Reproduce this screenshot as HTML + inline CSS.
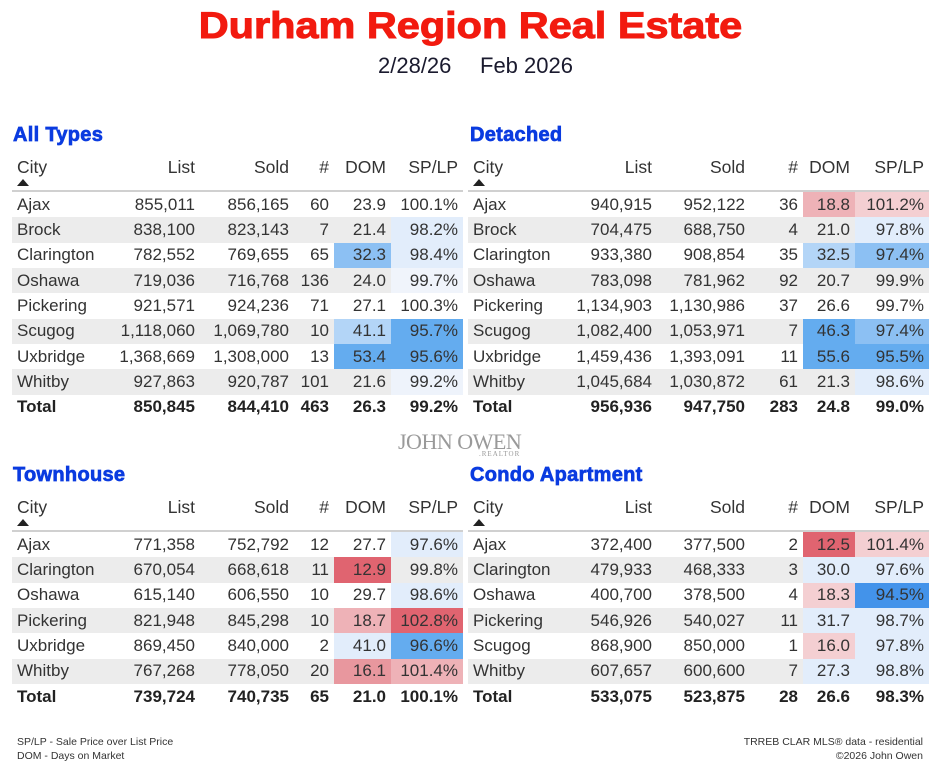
<!DOCTYPE html>
<html><head><meta charset="utf-8"><style>
*{margin:0;padding:0;box-sizing:border-box}
body{width:941px;height:772px;background:#fff;position:relative;overflow:hidden;font-family:"Liberation Sans",sans-serif;color:#222}
.abs{position:absolute}
.title{left:0;width:941px;top:5px;text-align:center;color:#f21a0f;font-weight:bold;font-size:37px;transform:scaleX(1.12);-webkit-text-stroke:1px #f21a0f}
.date{top:53px;font-size:22px;color:#1a1a2e}
.sec{font-weight:bold;color:#0a3be0;font-size:20px;-webkit-text-stroke:0.7px #0a3be0;letter-spacing:0.3px}
.tbl{position:absolute}
.row{display:flex;height:25.35px;align-items:center;font-size:17px;color:#333}
.row div{height:100%;display:flex;align-items:center;justify-content:flex-end;padding-right:5px;white-space:nowrap}
.row div:first-child{justify-content:flex-start;padding-left:5px}
.g{background:#ececec}
.hd{height:40px;border-bottom:2px solid #d0d0d0;align-items:flex-start;padding-top:5px;font-size:17.5px;position:relative}
.hd div{height:auto}
.arr{position:absolute;left:5px;top:27px;width:0;height:0;border-left:6px solid transparent;border-right:6px solid transparent;border-bottom:7px solid #222}
.tot{font-weight:bold;color:#222}
.L .row div:nth-child(1){width:118px}.L .row div:nth-child(2){width:70px}.L .row div:nth-child(3){width:94px}.L .row div:nth-child(4){width:40px}.L .row div:nth-child(5){width:57px}.L .row div:nth-child(6){width:72px}
.R .row div:nth-child(1){width:92px}.R .row div:nth-child(2){width:97px}.R .row div:nth-child(3){width:93px}.R .row div:nth-child(4){width:53px}.R .row div:nth-child(5){width:52px}.R .row div:nth-child(6){width:74px}
.b1{background:#e2edfb}.b2{background:#b3d5f7}.b3{background:#8cc0f3}.b4{background:#64acef}.b5{background:#4393ea}
.r1{background:#f4cfd2}.r2{background:#eeb2b7}.r3{background:#e8979e}.r4{background:#e06470}
.foot{font-size:10.5px;color:#333;line-height:14px}
</style></head><body>
<div class="abs title">Durham Region Real Estate</div>
<div class="abs date" style="left:378px">2/28/26</div>
<div class="abs date" style="left:480px">Feb 2026</div>

<div class="abs sec" style="left:13px;top:124px">All Types</div>
<div class="abs sec" style="left:470px;top:124px">Detached</div>
<div class="abs sec" style="left:13px;top:464px">Townhouse</div>
<div class="abs sec" style="left:470px;top:464px">Condo Apartment</div>

<div class="tbl L" style="left:12px;top:152px">
<div class="row hd"><div>City</div><div>List</div><div>Sold</div><div>#</div><div>DOM</div><div>SP/LP</div><span class="arr"></span></div>
<div class="row"><div>Ajax</div><div>855,011</div><div>856,165</div><div>60</div><div>23.9</div><div>100.1%</div></div>
<div class="row g"><div>Brock</div><div>838,100</div><div>823,143</div><div>7</div><div>21.4</div><div class="b1">98.2%</div></div>
<div class="row"><div>Clarington</div><div>782,552</div><div>769,655</div><div>65</div><div class="b3">32.3</div><div class="b1">98.4%</div></div>
<div class="row g"><div>Oshawa</div><div>719,036</div><div>716,768</div><div>136</div><div>24.0</div><div style="background:#f0f4fb">99.7%</div></div>
<div class="row"><div>Pickering</div><div>921,571</div><div>924,236</div><div>71</div><div>27.1</div><div>100.3%</div></div>
<div class="row g"><div>Scugog</div><div>1,118,060</div><div>1,069,780</div><div>10</div><div class="b2">41.1</div><div class="b4">95.7%</div></div>
<div class="row"><div>Uxbridge</div><div>1,368,669</div><div>1,308,000</div><div>13</div><div class="b4">53.4</div><div class="b4">95.6%</div></div>
<div class="row g"><div>Whitby</div><div>927,863</div><div>920,787</div><div>101</div><div>21.6</div><div style="background:#eef3fb">99.2%</div></div>
<div class="row tot"><div>Total</div><div>850,845</div><div>844,410</div><div>463</div><div>26.3</div><div>99.2%</div></div>
</div>

<div class="tbl R" style="left:468px;top:152px">
<div class="row hd"><div>City</div><div>List</div><div>Sold</div><div>#</div><div>DOM</div><div>SP/LP</div><span class="arr"></span></div>
<div class="row"><div>Ajax</div><div>940,915</div><div>952,122</div><div>36</div><div class="r2">18.8</div><div class="r1">101.2%</div></div>
<div class="row g"><div>Brock</div><div>704,475</div><div>688,750</div><div>4</div><div>21.0</div><div class="b1">97.8%</div></div>
<div class="row"><div>Clarington</div><div>933,380</div><div>908,854</div><div>35</div><div class="b2">32.5</div><div class="b3">97.4%</div></div>
<div class="row g"><div>Oshawa</div><div>783,098</div><div>781,962</div><div>92</div><div>20.7</div><div>99.9%</div></div>
<div class="row"><div>Pickering</div><div>1,134,903</div><div>1,130,986</div><div>37</div><div>26.6</div><div>99.7%</div></div>
<div class="row g"><div>Scugog</div><div>1,082,400</div><div>1,053,971</div><div>7</div><div class="b4">46.3</div><div class="b3">97.4%</div></div>
<div class="row"><div>Uxbridge</div><div>1,459,436</div><div>1,393,091</div><div>11</div><div class="b4">55.6</div><div class="b4">95.5%</div></div>
<div class="row g"><div>Whitby</div><div>1,045,684</div><div>1,030,872</div><div>61</div><div>21.3</div><div class="b1">98.6%</div></div>
<div class="row tot"><div>Total</div><div>956,936</div><div>947,750</div><div>283</div><div>24.8</div><div>99.0%</div></div>
</div>

<div class="abs" style="left:398px;top:429px;font-family:'Liberation Serif',serif;font-size:22px;color:#9a9a9a;letter-spacing:-0.5px">JOHN OWEN</div>
<div class="abs" style="left:479px;top:450px;font-family:'Liberation Serif',serif;font-size:7px;color:#9a9a9a;letter-spacing:1px">.REALTOR</div>

<div class="tbl L" style="left:12px;top:492px">
<div class="row hd"><div>City</div><div>List</div><div>Sold</div><div>#</div><div>DOM</div><div>SP/LP</div><span class="arr"></span></div>
<div class="row"><div>Ajax</div><div>771,358</div><div>752,792</div><div>12</div><div>27.7</div><div class="b1">97.6%</div></div>
<div class="row g"><div>Clarington</div><div>670,054</div><div>668,618</div><div>11</div><div class="r4">12.9</div><div>99.8%</div></div>
<div class="row"><div>Oshawa</div><div>615,140</div><div>606,550</div><div>10</div><div>29.7</div><div class="b1">98.6%</div></div>
<div class="row g"><div>Pickering</div><div>821,948</div><div>845,298</div><div>10</div><div class="r2">18.7</div><div class="r4">102.8%</div></div>
<div class="row"><div>Uxbridge</div><div>869,450</div><div>840,000</div><div>2</div><div class="b1">41.0</div><div class="b4">96.6%</div></div>
<div class="row g"><div>Whitby</div><div>767,268</div><div>778,050</div><div>20</div><div class="r3">16.1</div><div class="r2">101.4%</div></div>
<div class="row tot"><div>Total</div><div>739,724</div><div>740,735</div><div>65</div><div>21.0</div><div>100.1%</div></div>
</div>

<div class="tbl R" style="left:468px;top:492px">
<div class="row hd"><div>City</div><div>List</div><div>Sold</div><div>#</div><div>DOM</div><div>SP/LP</div><span class="arr"></span></div>
<div class="row"><div>Ajax</div><div>372,400</div><div>377,500</div><div>2</div><div class="r4">12.5</div><div class="r1">101.4%</div></div>
<div class="row g"><div>Clarington</div><div>479,933</div><div>468,333</div><div>3</div><div class="b1">30.0</div><div class="b1">97.6%</div></div>
<div class="row"><div>Oshawa</div><div>400,700</div><div>378,500</div><div>4</div><div class="r1">18.3</div><div class="b5">94.5%</div></div>
<div class="row g"><div>Pickering</div><div>546,926</div><div>540,027</div><div>11</div><div class="b1">31.7</div><div class="b1">98.7%</div></div>
<div class="row"><div>Scugog</div><div>868,900</div><div>850,000</div><div>1</div><div class="r1">16.0</div><div class="b1">97.8%</div></div>
<div class="row g"><div>Whitby</div><div>607,657</div><div>600,600</div><div>7</div><div class="b1">27.3</div><div class="b1">98.8%</div></div>
<div class="row tot"><div>Total</div><div>533,075</div><div>523,875</div><div>28</div><div>26.6</div><div>98.3%</div></div>
</div>

<div class="abs foot" style="left:17px;top:735px">SP/LP - Sale Price over List Price<br>DOM - Days on Market</div>
<div class="abs foot" style="right:18px;top:735px;text-align:right">TRREB CLAR MLS® data - residential<br>©2026 John Owen</div>
</body></html>
